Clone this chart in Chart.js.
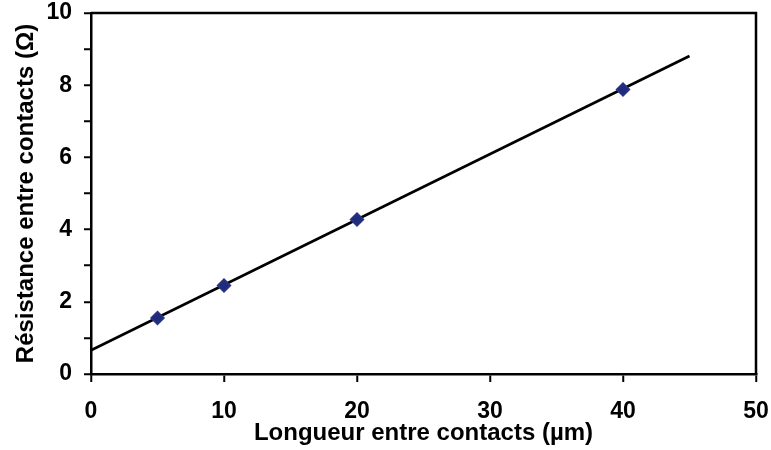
<!DOCTYPE html>
<html>
<head>
<meta charset="utf-8">
<script src="https://cdn.jsdelivr.net/npm/chart.js@4/dist/chart.umd.min.js"></script>
<style>
  html, body { margin: 0; padding: 0; background: #ffffff; }
  #c { display: block; }
</style>
</head>
<body>
<canvas id="c" width="771" height="450"></canvas>
<script>
// Data
const lengths = [5, 10, 20, 40];               // Longueur entre contacts (µm)
const resistances = [1.55, 2.45, 4.28, 7.88];   // Résistance entre contacts (Ω)
const fitX = [0, 45];                           // linear fit end points (x)
const fitY = [0.66, 8.81];                      // linear fit end points (y)
const xTicks = [0, 10, 20, 30, 40, 50];
const yTicks = [0, 2, 4, 6, 8, 10];
const xTitle = 'Longueur entre contacts (µm)';
const yTitle = 'Résistance entre contacts (Ω)';

const FONT = "'Liberation Sans', Arial, Helvetica, sans-serif";

const framePlugin = {
  id: 'frame',
  afterDraw(chart) {
    const {ctx, chartArea: a} = chart;
    ctx.save();
    ctx.strokeStyle = '#000';
    ctx.lineWidth = 2.5;
    ctx.beginPath();
    ctx.moveTo(a.left, a.top);
    ctx.lineTo(a.right, a.top);
    ctx.lineTo(a.right, a.bottom);
    ctx.stroke();
    ctx.restore();
  }
};

new Chart(document.getElementById('c'), {
  type: 'scatter',
  data: {
    datasets: [
      {
        label: 'fit',
        data: fitX.map((x, i) => ({x, y: fitY[i]})),
        showLine: true,
        borderColor: '#000',
        borderWidth: 2.7,
        pointRadius: 0,
        fill: false,
        order: 2
      },
      {
        label: 'mesures',
        data: lengths.map((x, i) => ({x, y: resistances[i]})),
        pointStyle: 'rectRot',
        pointRadius: 6.5,
        pointBackgroundColor: '#1f2b7c',
        pointBorderColor: '#2a3482',
        pointBorderWidth: 1.5,
        showLine: false,
        order: 1
      }
    ]
  },
  options: {
    responsive: false,
    animation: false,
    layout: { padding: { top: 13, right: 15, left: 0, bottom: 0 } },
    plugins: { legend: { display: false }, tooltip: { enabled: false } },
    scales: {
      x: {
        type: 'linear',
        min: 0, max: 50,
        afterBuildTicks(scale) { scale.ticks = xTicks.map(v => ({value: v})); },
        afterFit(scale) { scale.height = 76; scale.paddingLeft = 0; scale.paddingRight = 0; },
        grid: { drawOnChartArea: false, drawTicks: true, tickLength: 8, color: '#000', lineWidth: 2.5, tickWidth: 2 },
        border: { color: '#000', width: 2.5 },
        ticks: { color: '#000', padding: 16, maxRotation: 0, font: { family: FONT, size: 23, weight: 'bold' } },
        title: { display: true, text: xTitle, color: '#000', padding: { top: 0, bottom: 2 }, font: { family: FONT, size: 24, weight: 'bold' } }
      },
      y: {
        type: 'linear',
        min: 0, max: 10,
        afterBuildTicks(scale) {
          const t = [];
          for (let v = 0; v <= 10; v++) t.push({value: v});
          scale.ticks = t;
        },
        afterFit(scale) { scale.width = 91; scale.paddingTop = 0; scale.paddingBottom = 0; },
        grid: { drawOnChartArea: false, drawTicks: true, tickLength: 7, color: '#000', lineWidth: 2.5, tickWidth: 2 },
        border: { color: '#000', width: 2.5 },
        ticks: {
          color: '#000', padding: 12,
          font: { family: FONT, size: 23, weight: 'bold' },
          callback: (v) => yTicks.includes(v) ? String(v) : ''
        },
        title: { display: true, text: yTitle, color: '#000', padding: { top: 12, bottom: 0 }, font: { family: FONT, size: 24, weight: 'bold' } }
      }
    }
  },
  plugins: [framePlugin]
});
</script>
</body>
</html>
